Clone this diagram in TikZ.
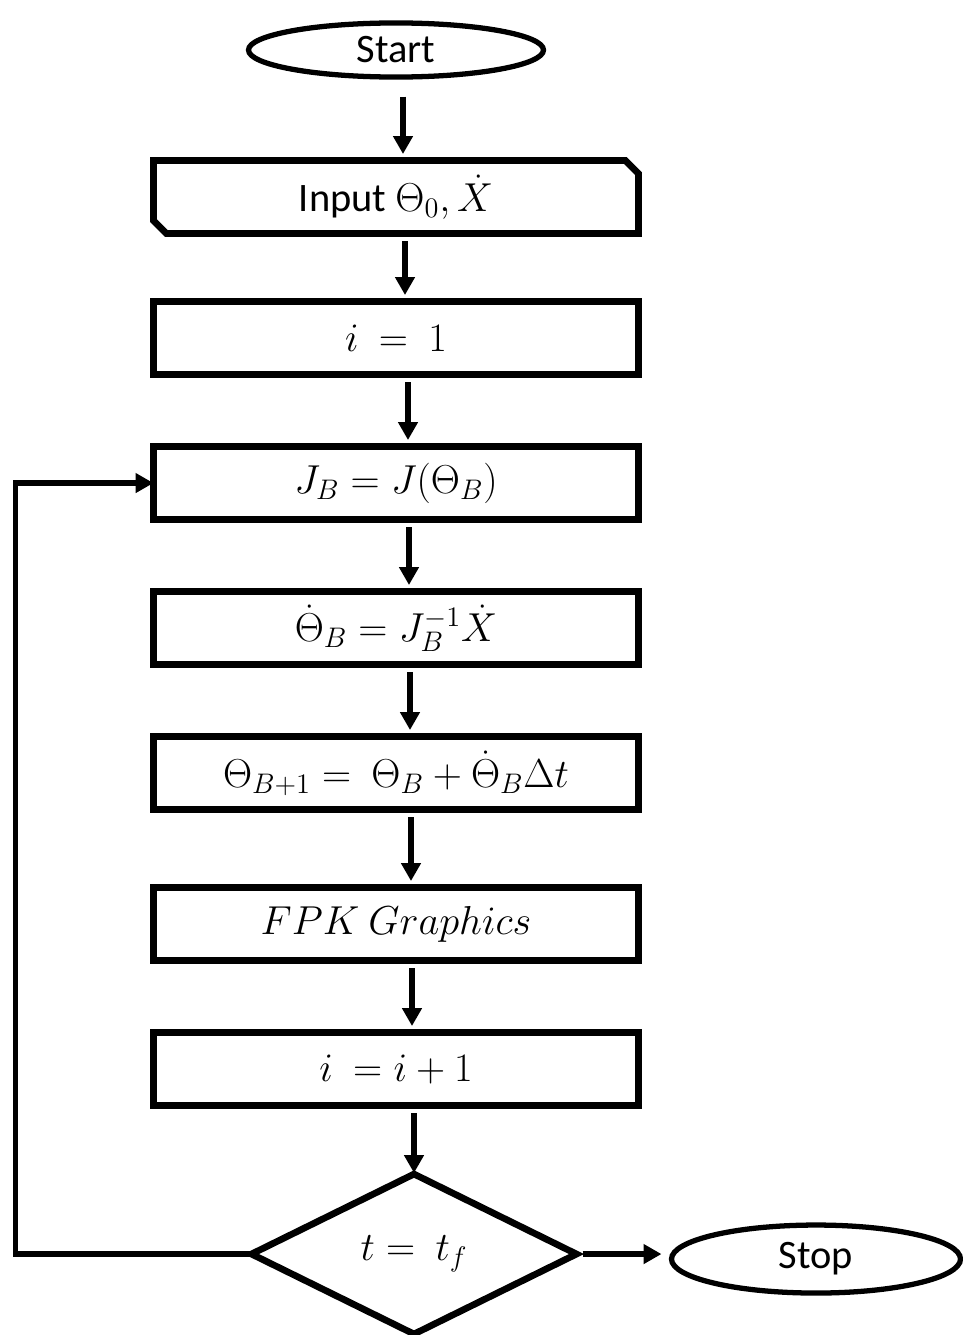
\RequirePackage{fix-cm}
\documentclass[tikz,border=0pt]{standalone}
\usepackage{fontspec}
\setmainfont{Carlito}
\usetikzlibrary{positioning,shapes.geometric,shapes.misc,arrows.meta}
\tikzset{
  term/.style={ellipse,draw,line width=3pt,outer sep=0pt,minimum width=5.9cm,minimum height=1.02cm,font=\fontsize{23}{27}\selectfont},
  proc/.style={rectangle,draw,line width=3.8pt,outer sep=0pt,minimum width=9.7cm,minimum height=1.46cm,font=\fontsize{23}{27}\selectfont},
  inproc/.style={proc,chamfered rectangle,chamfered rectangle corners={north east,south west},chamfered rectangle xsep=0.13cm,chamfered rectangle ysep=0.13cm},
  test/.style={diamond,draw,line width=3.8pt,outer sep=0pt,minimum width=6.5cm,minimum height=3.2cm,inner sep=0pt,font=\fontsize{23}{27}\selectfont},
  flow/.style={-{Triangle[length=0.36cm,width=0.38cm]},line width=3pt,shorten <=0.15cm,shorten >=0.13cm}
}
\begin{document}
\begin{tikzpicture}
  \useasboundingbox (0,0) rectangle (19.26,-26.7);

  % main column
  \node[term] (start) at (7.92,-1.0) {Start};
  \node[inproc,below=1.67cm of start] (inp) {Input $\Theta_0,\dot{X}$};
  \node[proc,below=1.36cm of inp] (one) {$i\ =\ 1$};
  \node[proc,below=1.44cm of one] (jac) {$J_B = J(\Theta_B)$};
  \node[proc,below=1.44cm of jac] (vel) {$\dot{\Theta}_B = J_B^{-1}\dot{X}$};
  \node[proc,below=1.44cm of vel] (upd) {$\Theta_{B+1} =\ \Theta_B + \dot{\Theta}_B\Delta t$};
  \node[proc,below=1.56cm of upd] (fpk) {$FPK\ Graphics$};
  \node[proc,below=1.44cm of fpk] (inc) {$i\ = i + 1$};
  \node[test,below=1.37cm of inc,xshift=0.36cm] (dec) {$t =\ t_f$};
  \node[term,right=1.9cm of dec,yshift=-0.1cm,minimum width=5.78cm,minimum height=1.36cm] (stop) {Stop};

  % arrows
  \path[flow,shorten <=0.39cm] ([xshift=0.14cm]start.south) edge ([xshift=0.14cm]inp.north);
  \path[flow] ([xshift=0.18cm]inp.south) edge ([xshift=0.18cm]one.north);
  \path[flow] ([xshift=0.24cm]one.south) edge ([xshift=0.24cm]jac.north);
  \path[flow] ([xshift=0.26cm]jac.south) edge ([xshift=0.26cm]vel.north);
  \path[flow] ([xshift=0.28cm]vel.south) edge ([xshift=0.28cm]upd.north);
  \path[flow] ([xshift=0.3cm]upd.south) edge ([xshift=0.3cm]fpk.north);
  \path[flow] ([xshift=0.32cm]fpk.south) edge ([xshift=0.32cm]inc.north);
  \path[flow,shorten >=0.02cm] (inc.south -| dec.north) edge (dec.north);
  \path[flow,shorten <=0.12cm,shorten >=0.2cm] (dec.east) edge (stop.west |- dec.east);

  % loop back
  \draw[flow,shorten <=0pt,shorten >=0pt] (dec.west) -- ++(-4.72,0) |- (jac.west);
\end{tikzpicture}
\end{document}
